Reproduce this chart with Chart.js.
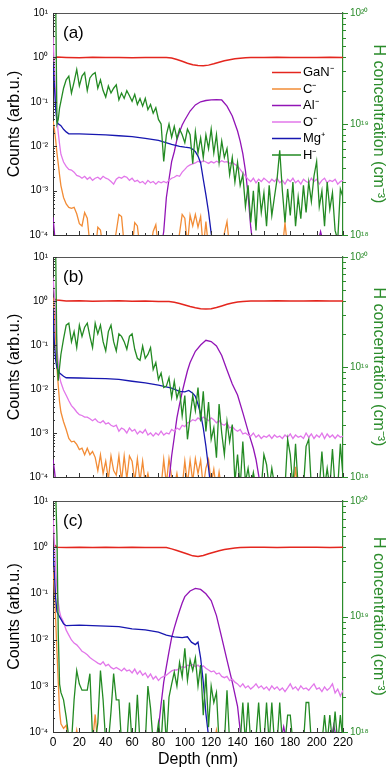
<!DOCTYPE html>
<html>
<head>
<meta charset="utf-8">
<script src="https://cdn.jsdelivr.net/npm/chart.js@4.4.1/dist/chart.umd.min.js"></script>
<style>
  body { margin: 0; background: #fff; }
  #wrap { position: relative; width: 390px; height: 773px; overflow: hidden; }
  canvas { position: absolute; left: 0; }
</style>
</head>
<body>
<div id="wrap">
  <canvas id="panelA" width="390" height="248" style="top:0px"></canvas>
  <canvas id="panelB" width="390" height="246" style="top:244px"></canvas>
  <canvas id="panelC" width="390" height="285" style="top:488px"></canvas>
</div>
<script>
// depth grid (nm) shared by the noisy traces
const depth = [0, 1, 2, 3, 4, 5,
  6, 8, 10, 12, 14, 16, 18, 20, 22, 24,
  26, 28, 30, 32, 34, 36, 38, 40, 42, 44,
  46, 48, 50, 52, 54, 56, 58, 60, 62, 64,
  66, 68, 70, 72, 74, 76, 78, 80, 82, 84,
  86, 88, 90, 92, 94, 96, 98, 100, 102, 104,
  106, 108, 110, 112, 114, 116, 118, 120, 122, 124,
  126, 128, 130, 132, 134, 136, 138, 140, 142, 144,
  146, 148, 150, 152, 154, 156, 158, 160, 162, 164,
  166, 168, 170, 172, 174, 176, 178, 180, 182, 184,
  186, 188, 190, 192, 194, 196, 198, 200, 202, 204,
  206, 208, 210, 212, 214, 216, 218, 220];

const seriesNames = ['GaN⁻', 'C⁻', 'Al⁻', 'O⁻', 'Mg⁺', 'H⁻'];
const panelLabels = ['(a)', '(b)', '(c)'];

// ---- panel (a) ----
const gaNDepthA = [1, 3, 10, 20, 30, 40, 50, 60, 70, 80, 86, 90, 94, 98, 102, 106, 110, 114, 118, 122, 126, 130, 134, 138, 142, 146, 150, 160, 170, 180, 190, 200, 210, 220];
const gaNA = [0.95, 1.02, 1.0, 0.98, 1.01, 0.99, 1.0, 0.98, 1.0, 0.99, 0.99, 0.97, 0.9, 0.82, 0.74, 0.68, 0.66, 0.65, 0.67, 0.72, 0.78, 0.84, 0.89, 0.93, 0.96, 0.98, 0.99, 1.0, 1.01, 1.0, 0.99, 1.0, 1.01, 1.0];
const cA = [0.037, 0.025, 0.014, 0.007, 0.004, 0.0022,
  0.0013, 7e-4, 5e-4, 4.2e-4, 4e-4, 4.2e-4, 3e-4, 1.8e-4, 1.6e-4, 3.2e-4,
  2.4e-4, 6e-5, 5e-5, 4e-5, 1.5e-4, 1.3e-4, 5e-5, 4e-5, 5e-5, 6e-5,
  5e-5, 1.2e-4, 2.9e-4, 2.6e-4, 6e-5, 5e-5, 4e-5, 5e-5, 1.9e-4, 1.6e-4,
  5e-5, 4e-5, 5e-5, 4e-5, 5e-5, 1.2e-4, 1.7e-4, 5e-5, 4e-5, 5e-5,
  4e-5, 5e-5, 6e-5, 5e-5, 4e-5, 1.1e-4, 2.9e-4, 2.4e-4, 6e-5, 2.8e-4,
  1.6e-4, 2.9e-4, 1.5e-4, 2.6e-4, 5e-5, 2e-4, 5e-5, 4e-5, 5e-5, 4e-5,
  5e-5, 4e-5, 1.1e-4, 2e-4, 5e-5, 4e-5, 5e-5, 4e-5, 5e-5, 4e-5,
  5e-5, 4e-5, 5e-5, 4e-5, 5e-5, 4e-5, 5e-5, 4e-5, 5e-5, 4e-5,
  5e-5, 4e-5, 5e-5, 4e-5, 5e-5, 1.9e-4, 5e-5, 4e-5, 5e-5, 4e-5,
  5e-5, 4e-5, 5e-5, 4e-5, 5e-5, 4e-5, 5e-5, 4e-5, 5e-5, 4e-5,
  5e-5, 4e-5, 5e-5, 4e-5, 5e-5, 4e-5, 5e-5, 4e-5];
const alDepthA = [0, 1, 2, 82, 84, 86, 88, 90, 92, 94, 96, 98, 100, 104, 108, 112, 116, 120, 124, 128, 132, 136, 140, 142, 144, 146, 148, 150, 152, 200, 203, 206];
const alA = [2.5e-4, 1.2e-4, 5e-5, 5e-5, 1.2e-4, 7e-4, 0.0018, 0.0045, 0.0075, 0.014, 0.021, 0.03, 0.039, 0.062, 0.085, 0.1, 0.107, 0.11, 0.112, 0.11, 0.08, 0.048, 0.022, 0.013, 0.0068, 0.0028, 8e-4, 1.5e-4, 5e-5, 5e-5, 1.2e-4, 5e-5];
const oA = [3, 0.6, 0.11, 0.04, 0.02, 0.011,
  0.0066, 0.0044, 0.0035, 0.003, 0.0029, 0.0026, 0.0022, 0.0021, 0.0019, 0.0021,
  0.0018, 0.002, 0.0017, 0.0019, 0.002, 0.0018, 0.0021, 0.0019, 0.0018, 0.0016,
  0.0014, 0.0018, 0.002, 0.0019, 0.0021, 0.002, 0.0017, 0.0019, 0.0016, 0.0017,
  0.0015, 0.0016, 0.0014, 0.0017, 0.0015, 0.0016, 0.0014, 0.0016, 0.0015, 0.0016,
  0.0015, 0.0017, 0.0019, 0.002, 0.0022, 0.0021, 0.0026, 0.003, 0.0035, 0.0038,
  0.004, 0.0042, 0.0046, 0.0043, 0.0047, 0.0044, 0.0041, 0.0045, 0.0042, 0.0046,
  0.0043, 0.0047, 0.0044, 0.0045, 0.0041, 0.0043, 0.0039, 0.0036, 0.003, 0.0025,
  0.0021, 0.0018, 0.0016, 0.0019, 0.0015, 0.0018, 0.0016, 0.0019, 0.0017, 0.0015,
  0.0018, 0.0016, 0.0019, 0.0015, 0.0017, 0.0014, 0.0018, 0.0016, 0.0019, 0.0015,
  0.0017, 0.0014, 0.0018, 0.0016, 0.0015, 0.0019, 0.0016, 0.0018, 0.0014, 0.0017,
  0.0019, 0.0015, 0.0017, 0.0016, 0.0018, 0.0014, 0.0016, 0.0017];
const mgDepthA = [0, 1, 2, 3, 4, 6, 8, 10, 12, 20, 30, 40, 50, 60, 70, 80, 90, 96, 100, 104, 106, 108, 110, 112, 114, 116, 118, 120, 122];
const mgA = [0.8, 0.25, 0.07, 0.036, 0.032, 0.029, 0.024, 0.021, 0.019, 0.019, 0.0185, 0.018, 0.0172, 0.0165, 0.015, 0.0135, 0.011, 0.0099, 0.0095, 0.0092, 0.0085, 0.0075, 0.006, 0.0042, 0.0018, 8e-4, 3.3e-4, 1.1e-4, 5e-5];
// H in units of 1e18 cm^-3
const hA = [200, 200, 150, 10, 11, 14,
  16, 21, 25, 27, 19, 24, 31, 22, 27, 29,
  20, 26, 28, 29, 21, 25, 20, 17.5, 22, 19,
  21, 22.5, 16.5, 19, 17, 20, 18, 16, 18.5, 15,
  17, 14.5, 17, 13.5, 15, 12.5, 14, 11, 10, 4.6,
  8, 10, 7.6, 9.5, 7.4, 9, 8, 6.8, 9, 8,
  4.4, 8.5, 5.5, 7.5, 5, 8, 6, 9, 5.5, 8,
  4.5, 7, 5, 6, 3.5, 5, 3, 4.5, 2.8, 3.5,
  1.8, 2.8, 1.3, 2.5, 1.1, 3, 1.6, 2.4, 1.2, 2.8,
  1.5, 2.2, 3.2, 5.8, 2.5, 1.3, 2.6, 1.5, 3, 1.2,
  2.2, 1.4, 2.8, 1.6, 3, 2, 3.4, 4.6, 1.8, 2.5,
  1.2, 3, 1.7, 2.4, 1.1, 0.9, 2.6, 2.2];

// ---- panel (b) ----
const gaNDepthB = [1, 3, 10, 20, 30, 40, 50, 60, 70, 80, 88, 92, 96, 100, 104, 108, 112, 116, 120, 124, 128, 132, 136, 140, 144, 150, 160, 170, 180, 190, 200, 210, 220];
const gaNB = [1.1, 1.05, 1.0, 1.01, 0.99, 1.0, 1.01, 0.99, 1.0, 0.98, 0.97, 0.94, 0.88, 0.81, 0.75, 0.7, 0.67, 0.66, 0.67, 0.71, 0.77, 0.84, 0.9, 0.95, 0.98, 1.0, 1.0, 1.01, 1.0, 1.0, 1.01, 1.0, 1.0];
const cB = [1.2, 0.5, 0.15, 0.03, 0.012, 0.005,
  0.003, 0.0018, 0.0012, 7.5e-4, 6.3e-4, 6.5e-4, 5.5e-4, 4.2e-4, 4.5e-4, 3.2e-4,
  4.5e-4, 3.2e-4, 3.8e-4, 2.8e-4, 1.4e-4, 3.2e-4, 1.2e-4, 2.3e-4, 9e-5, 3e-4,
  1.4e-4, 1.1e-4, 3e-4, 8e-5, 3e-4, 9e-5, 3e-4, 2.3e-4, 8e-5, 2.6e-4,
  8e-5, 2.3e-4, 7e-5, 1.2e-4, 6e-5, 5e-5, 6e-5, 5e-5, 6e-5, 2.5e-4,
  7e-5, 2.6e-4, 1e-4, 6e-5, 1.2e-4, 5e-5, 6e-5, 2.3e-4, 7e-5, 2.4e-4,
  8e-5, 2.6e-4, 1.2e-4, 2.4e-4, 6e-5, 1.6e-4, 2.5e-4, 7e-5, 1.5e-4, 5e-5,
  1.3e-4, 5e-5, 6e-5, 5e-5, 4e-5, 5e-5, 4e-5, 5e-5, 4e-5, 5e-5,
  4e-5, 5e-5, 4e-5, 5e-5, 4e-5, 5e-5, 4e-5, 5e-5, 4e-5, 5e-5,
  4e-5, 5e-5, 4e-5, 5e-5, 4e-5, 5e-5, 4e-5, 5e-5, 4e-5, 1.7e-4,
  4e-5, 5e-5, 4e-5, 5e-5, 4e-5, 5e-5, 4e-5, 5e-5, 4e-5, 5e-5,
  4e-5, 5e-5, 4e-5, 5e-5, 4e-5, 5e-5, 4e-5, 5e-5];
const alDepthB = [0, 1, 2, 3, 86, 88, 90, 92, 94, 96, 98, 100, 102, 104, 108, 112, 116, 120, 124, 128, 132, 136, 140, 144, 148, 152, 154, 156, 158];
const alB = [2.5e-4, 1.5e-4, 8e-5, 5e-5, 5e-5, 8e-5, 3e-4, 8e-4, 0.0022, 0.0045, 0.0085, 0.015, 0.026, 0.04, 0.072, 0.1, 0.128, 0.12, 0.095, 0.058, 0.027, 0.013, 0.0073, 0.0029, 0.0011, 4.5e-4, 2.5e-4, 1.1e-4, 5e-5];
const oB = [3.4, 1.4, 0.44, 0.085, 0.038, 0.019,
  0.014, 0.0095, 0.0072, 0.0054, 0.0042, 0.0036, 0.003, 0.0026, 0.0025, 0.0023,
  0.0023, 0.0021, 0.0019, 0.0021, 0.0018, 0.0017, 0.0019, 0.0016, 0.0017, 0.0015,
  0.0014, 0.0015, 0.0011, 0.0013, 0.0012, 0.001, 0.0013, 0.0011, 0.0012, 0.00095,
  0.0011, 0.001, 0.0012, 0.0009, 0.001, 0.00085, 0.001, 0.0009, 0.0011, 0.0009,
  0.001, 0.00095, 0.0012, 0.0011, 0.0013, 0.0012, 0.0015, 0.0014, 0.0017, 0.0018,
  0.002, 0.0019, 0.0022, 0.002, 0.0023, 0.0021, 0.0019, 0.0022, 0.002, 0.0017,
  0.0019, 0.0016, 0.0015, 0.0017, 0.0013, 0.0014, 0.0012, 0.0011, 0.0012, 0.00095,
  0.001, 0.0009, 0.00085, 0.001, 0.0008, 0.0009, 0.00075, 0.00085, 0.0008, 0.0009,
  0.00075, 0.0009, 0.0008, 0.00085, 0.00075, 0.0009, 0.0008, 0.00095, 0.00075, 0.0009,
  0.0008, 0.00085, 0.00075, 0.001, 0.0008, 0.00095, 0.00075, 0.0009, 0.0008, 0.001,
  0.00075, 0.00095, 0.0008, 0.0009, 0.00075, 0.0009, 0.0008, 0.00085];
const mgDepthB = [0, 1, 2, 3, 5, 8, 10, 20, 30, 40, 50, 60, 70, 80, 90, 96, 100, 103, 106, 108, 110, 112, 114, 116, 118, 120];
const mgB = [0.7, 0.12, 0.045, 0.03, 0.023, 0.0195, 0.018, 0.0178, 0.0175, 0.0172, 0.0165, 0.015, 0.0138, 0.0122, 0.0105, 0.0088, 0.0086, 0.0093, 0.008, 0.0068, 0.0045, 0.0027, 0.0013, 5e-4, 1.6e-4, 5e-5];
const hB = [150, 200, 120, 12, 7.5, 10,
  13, 18, 24, 25, 17, 21, 15, 24, 19, 23,
  25, 19, 15, 25, 20, 24, 17, 14, 21, 24,
  17, 14, 20, 19, 17, 14.5, 19, 20, 14.5, 12,
  11.5, 15.5, 12, 13, 15, 9.5, 11, 7.7, 8.8, 6.5,
  6.7, 8, 5.3, 7.4, 5.2, 6.3, 3.6, 5.5, 2.2, 3.5,
  5.5, 4, 6.5, 3.2, 6, 2.6, 4.8, 2.2, 2.8, 1.5,
  4.6, 2.5, 1.6, 3.2, 2.1, 3, 0.9, 1.6, 0.8, 2.1,
  0.9, 1.2, 0.8, 1.1, 0.8, 0.9, 0.8, 1.6, 1.3, 0.8,
  1.2, 0.85, 0.8, 0.9, 0.8, 0.8, 2.2, 1.6, 0.8, 2,
  0.8, 0.9, 0.8, 1.9, 2.2, 0.8, 0.8, 0.9, 0.8, 1.7,
  0.8, 1.2, 0.8, 1.8, 0.8, 0.8, 2, 1];

// ---- panel (c) ----
const gaNDepthC = [1, 3, 10, 20, 30, 40, 50, 60, 70, 80, 86, 90, 94, 98, 102, 106, 110, 114, 118, 122, 126, 130, 134, 138, 142, 150, 160, 170, 180, 190, 200, 210, 220];
const gaNC = [1.12, 1.0, 0.99, 1.0, 0.98, 1.0, 0.99, 1.0, 0.98, 0.99, 0.98, 0.92, 0.85, 0.78, 0.71, 0.65, 0.63, 0.66, 0.72, 0.78, 0.84, 0.89, 0.93, 0.96, 0.99, 1.0, 1.0, 0.99, 1.0, 1.0, 1.0, 0.99, 1.0];
const cC = [0.39, 0.12, 0.028, 0.0055, 0.0012, 2.8e-4,
  1.5e-4, 1.2e-4, 1.4e-4, 5e-5, 4e-5, 5e-5, 1.1e-4, 5e-5, 4e-5, 5e-5,
  4e-5, 5e-5, 6e-5, 2.4e-4, 5e-5, 4e-5, 5e-5, 4e-5, 5e-5, 4e-5,
  5e-5, 4e-5, 5e-5, 4e-5, 5e-5, 4e-5, 5e-5, 4e-5, 5e-5, 4e-5,
  5e-5, 4e-5, 5e-5, 4e-5, 5e-5, 4e-5, 5e-5, 4e-5, 5e-5, 4e-5,
  5e-5, 4e-5, 5e-5, 4e-5, 5e-5, 4e-5, 5e-5, 4e-5, 5e-5, 4e-5,
  5e-5, 4e-5, 5e-5, 4e-5, 5e-5, 4e-5, 5e-5, 4e-5, 5e-5, 1.1e-4,
  5e-5, 4e-5, 5e-5, 4e-5, 5e-5, 4e-5, 5e-5, 4e-5, 5e-5, 4e-5,
  5e-5, 4e-5, 5e-5, 4e-5, 5e-5, 4e-5, 5e-5, 4e-5, 5e-5, 4e-5,
  5e-5, 4e-5, 5e-5, 4e-5, 5e-5, 4e-5, 5e-5, 4e-5, 5e-5, 4e-5,
  5e-5, 4e-5, 5e-5, 4e-5, 5e-5, 4e-5, 5e-5, 4e-5, 5e-5, 4e-5,
  5e-5, 4e-5, 5e-5, 4e-5, 5e-5, 4e-5, 5e-5, 4e-5];
const alDepthC = [78, 80, 82, 84, 86, 88, 90, 92, 94, 96, 98, 100, 104, 108, 112, 116, 120, 124, 128, 132, 136, 140, 142, 144, 172, 175, 178, 210, 213, 216];
const alC = [5e-5, 1.2e-4, 4e-4, 0.0012, 0.0026, 0.0055, 0.011, 0.018, 0.028, 0.042, 0.062, 0.085, 0.113, 0.128, 0.122, 0.098, 0.07, 0.033, 0.011, 0.0036, 0.0012, 3.6e-4, 1.1e-4, 5e-5, 5e-5, 1.3e-4, 5e-5, 5e-5, 1.4e-4, 5e-5];
const oC = [4.5, 1.4, 0.33, 0.12, 0.065, 0.04,
  0.031, 0.024, 0.016, 0.0125, 0.0098, 0.0084, 0.0077, 0.0066, 0.0056, 0.0052,
  0.0047, 0.0041, 0.0037, 0.0034, 0.0031, 0.0029, 0.0033, 0.0027, 0.0029, 0.0025,
  0.0023, 0.0025, 0.0023, 0.0021, 0.0024, 0.0021, 0.0022, 0.0019, 0.0023, 0.0018,
  0.0021, 0.0017, 0.0019, 0.0015, 0.0018, 0.0014, 0.0016, 0.0013, 0.0015, 0.0016,
  0.0017, 0.0019, 0.0021, 0.0022, 0.0022, 0.0024, 0.0026, 0.0025, 0.0028, 0.0027,
  0.0029, 0.0026, 0.0028, 0.0025, 0.0027, 0.0024, 0.0022, 0.002, 0.0021, 0.0018,
  0.0019, 0.0016, 0.0015, 0.0016, 0.0013, 0.0014, 0.0012, 0.0011, 0.00095, 0.0011,
  0.0009, 0.001, 0.00085, 0.00095, 0.0011, 0.0009, 0.001, 0.00085, 0.00095, 0.0008,
  0.001, 0.00085, 0.00095, 0.0008, 0.0009, 0.00075, 0.0009, 0.0011, 0.00085, 0.00095,
  0.0008, 0.001, 0.00085, 0.0009, 0.0008, 0.00095, 0.0011, 0.00085, 0.0009, 0.00075,
  0.00095, 0.0008, 0.0009, 0.0011, 0.0007, 0.00085, 0.0006, 0.0008];
const mgDepthC = [0, 1, 2, 3, 5, 8, 10, 20, 30, 40, 50, 60, 70, 80, 86, 92, 98, 102, 105, 108, 110, 112, 114, 116, 118, 120];
const mgC = [0.9, 0.3, 0.08, 0.04, 0.031, 0.022, 0.02, 0.0205, 0.02, 0.0195, 0.019, 0.017, 0.0162, 0.0145, 0.0125, 0.0115, 0.011, 0.0115, 0.0088, 0.0078, 0.0088, 0.004, 0.0012, 2.5e-4, 8e-5, 5e-5];
const hC = [150, 200, 120, 50, 7, 2.6,
  2.2, 1.9, 1.35, 0.9, 0.8, 1.9, 3.4, 2.6, 2.3, 2.3,
  2.3, 3.2, 0.9, 0.8, 1.2, 3.4, 1.9, 0.8, 0.8, 1.5,
  3.2, 1.9, 1.9, 0.8, 0.9, 0.8, 1.8, 0.8, 0.8, 2.1,
  0.8, 0.9, 0.8, 2.5, 1.6, 0.8, 0.8, 1.2, 0.8, 1.9,
  0.8, 2, 2.6, 3.3, 2.5, 4, 3, 5.3, 2.8, 4.2,
  3.4, 4.4, 2.5, 3.8, 1.4, 3.2, 1.1, 2.5, 1.8, 2.2,
  0.8, 0.9, 0.8, 2.3, 0.8, 0.8, 0.8, 0.8, 0.8, 1.8,
  0.8, 1.8, 0.8, 0.8, 0.9, 1.8, 0.8, 0.8, 1.8, 0.8,
  1.8, 0.8, 0.8, 1.8, 0.8, 0.8, 1.4, 1.4, 0.8, 0.8,
  0.8, 0.9, 0.8, 1.8, 1.8, 0.8, 0.8, 0.8, 0.9, 0.8,
  1.4, 0.8, 1.4, 0.8, 1.5, 0.8, 1.4, 0.8];

// styles
const seriesColors = ['#e4261e', '#f28c36', '#9214b6', '#e277ea', '#1717b0', '#238a23'];
const axisGreen = '#2b8c2b';
const fontFamily = "'Liberation Sans', Arial, sans-serif";

Chart.defaults.font.family = fontFamily;
Chart.defaults.color = '#000';

const supMap = { '0': '⁰', '1': '¹', '2': '²', '3': '³', '4': '⁴', '5': '⁵', '6': '⁶', '7': '⁷', '8': '⁸', '9': '⁹', '-': '⁻' };
function powerLabel(exp) {
  return '10' + String(exp).split('').map(c => supMap[c]).join('');
}
function isDecade(v) {
  const e = Math.log10(v);
  return Math.abs(e - Math.round(e)) < 1e-6;
}
function pts(xs, ys) {
  return xs.map((x, i) => ({ x: x, y: ys[i] }));
}
// 1..9 x 10^k positions for tick marks on a log scale
function logTickValues(scale) {
  const out = [];
  for (let e = Math.floor(Math.log10(scale.min)); e <= Math.ceil(Math.log10(scale.max)); e++) {
    for (let m = 1; m <= 9; m++) {
      const v = m * Math.pow(10, e);
      if (v >= scale.min * 0.999 && v <= scale.max * 1.001) out.push(v);
    }
  }
  return out;
}

// frame, inner ticks, panel letter and legend
const panelDecor = {
  id: 'panelDecor',
  afterDraw(chart, args, opts) {
    const { ctx, chartArea: a, scales } = chart;
    ctx.save();
    ctx.lineWidth = 1;
    ctx.strokeStyle = '#555';
    ctx.beginPath();
    ctx.moveTo(a.left, a.top + 0.5);
    ctx.lineTo(a.right, a.top + 0.5);
    ctx.stroke();

    ctx.strokeStyle = '#333';
    logTickValues(scales.y).forEach(v => {
      const py = Math.round(scales.y.getPixelForValue(v)) + 0.5;
      const len = isDecade(v) ? 4 : 2;
      ctx.beginPath();
      ctx.moveTo(a.left, py);
      ctx.lineTo(a.left + len, py);
      ctx.stroke();
    });
    for (let d = scales.x.min; d <= scales.x.max; d += 10) {
      const px = Math.round(scales.x.getPixelForValue(d)) + 0.5;
      const len = d % 20 === 0 ? 4 : 2;
      ctx.beginPath();
      ctx.moveTo(px, a.bottom);
      ctx.lineTo(px, a.bottom - len);
      ctx.stroke();
    }
    ctx.strokeStyle = axisGreen;
    logTickValues(scales.yH).forEach(v => {
      const py = Math.round(scales.yH.getPixelForValue(v)) + 0.5;
      const len = isDecade(v) ? 5 : 3;
      ctx.beginPath();
      ctx.moveTo(a.right, py);
      ctx.lineTo(a.right + len, py);
      ctx.stroke();
    });

    ctx.fillStyle = '#000';
    ctx.font = '17px ' + fontFamily;
    ctx.textBaseline = 'alphabetic';
    ctx.fillText(opts.label, a.left + 10, a.top + 24.5);

    if (opts.legend) {
      ctx.font = '13px ' + fontFamily;
      ctx.textBaseline = 'middle';
      chart.data.datasets.forEach((ds, i) => {
        const y = a.top + 59.5 + i * 16.5;
        ctx.strokeStyle = ds.borderColor;
        ctx.lineWidth = 1.5;
        ctx.beginPath();
        ctx.moveTo(272, y);
        ctx.lineTo(301, y);
        ctx.stroke();
        ctx.fillStyle = '#000';
        ctx.fillText(ds.label, 303, y);
      });
    }
    ctx.restore();
  }
};

function buildPanel(canvasId, label, xAxisHeight, isBottom, showLegend, series) {
  const datasets = series.map((s, i) => ({
    label: seriesNames[i],
    data: pts(s[0], s[1]),
    borderColor: seriesColors[i],
    backgroundColor: seriesColors[i],
    borderWidth: i === 0 ? 1.5 : 1.3,
    pointRadius: 0,
    tension: 0,
    fill: false,
    yAxisID: i === 5 ? 'yH' : 'y',
    order: 5 - i
  }));

  return new Chart(document.getElementById(canvasId), {
    type: 'line',
    data: { datasets: datasets },
    options: {
      responsive: false,
      animation: false,
      events: [],
      layout: { padding: { top: 9, left: 0, right: 0, bottom: 0 }, autoPadding: false },
      plugins: {
        legend: { display: false },
        tooltip: { enabled: false },
        panelDecor: { label: label, legend: showLegend }
      },
      scales: {
        x: {
          type: 'linear',
          min: 0,
          max: 220,
          border: { color: '#333', width: 1 },
          grid: { drawOnChartArea: false, drawTicks: false },
          ticks: { display: isBottom, stepSize: 20, font: { size: 12 }, padding: 3, maxRotation: 0, color: '#000' },
          title: { display: isBottom, text: 'Depth (nm)', font: { size: 16 }, color: '#000', padding: { top: 0, bottom: 4 } },
          afterFit: s => { s.height = xAxisHeight; }
        },
        y: {
          type: 'logarithmic',
          position: 'left',
          min: 1e-4,
          max: 10,
          border: { color: '#333', width: 1 },
          grid: { drawOnChartArea: false, drawTicks: false },
          ticks: {
            autoSkip: false,
            padding: 5,
            font: { size: 10 },
            color: '#000',
            callback: v => isDecade(v) ? powerLabel(Math.round(Math.log10(v))) : ''
          },
          title: { display: true, text: 'Counts (arb.u.)', font: { size: 16 }, color: '#000', padding: { top: 5, bottom: 0 } },
          afterFit: s => { s.width = 53; }
        },
        yH: {
          type: 'logarithmic',
          position: 'right',
          min: 1,
          max: 100,
          border: { color: axisGreen, width: 1.2 },
          grid: { drawOnChartArea: false, drawTicks: false },
          ticks: {
            autoSkip: false,
            padding: 7,
            font: { size: 10 },
            color: axisGreen,
            callback: v => isDecade(v) ? powerLabel(Math.round(Math.log10(v)) + 18) : ''
          },
          title: { display: true, text: 'H concentration (cm⁻³)', font: { size: 16 }, color: axisGreen, padding: { top: 2, bottom: 0 } },
          afterFit: s => { s.width = 47; }
        }
      }
    },
    plugins: [panelDecor]
  });
}

buildPanel('panelA', panelLabels[0], 6, false, true, [
  [gaNDepthA, gaNA], [depth, cA], [alDepthA, alA], [depth, oA], [mgDepthA, mgA], [depth, hA]
]);
buildPanel('panelB', panelLabels[1], 3, false, false, [
  [gaNDepthB, gaNB], [depth, cB], [alDepthB, alB], [depth, oB], [mgDepthB, mgB], [depth, hB]
]);
buildPanel('panelC', panelLabels[2], 41, true, false, [
  [gaNDepthC, gaNC], [depth, cC], [alDepthC, alC], [depth, oC], [mgDepthC, mgC], [depth, hC]
]);
</script>
</body>
</html>
